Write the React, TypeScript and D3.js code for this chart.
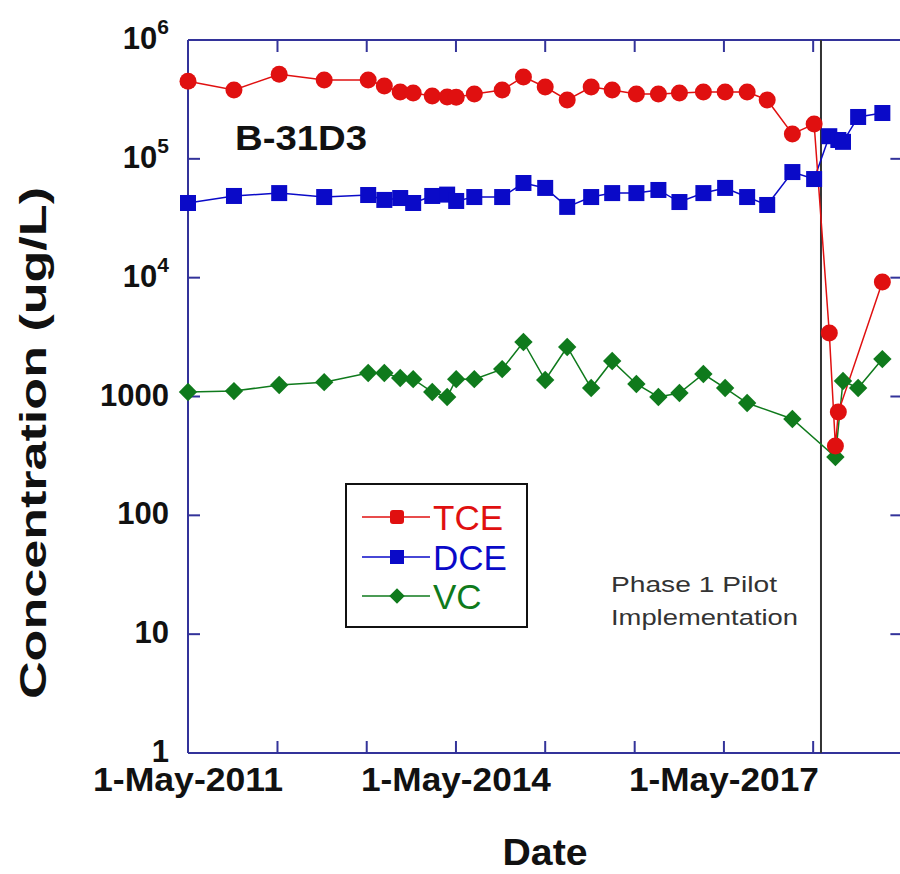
import React from "react";
import * as d3 from "d3";

const tceDates = ["2011-05-01","2011-11-05","2012-05-08","2012-11-08","2013-05-07","2013-07-12","2013-09-15","2013-11-07","2014-01-24","2014-03-26","2014-05-02","2014-07-15","2014-11-06","2015-02-01","2015-05-01","2015-07-30","2015-11-05","2016-01-30","2016-05-08","2016-08-06","2016-10-31","2017-02-06","2017-05-06","2017-08-04","2017-10-25","2018-02-05","2018-05-05","2018-07-06","2018-07-31","2018-08-12","2019-02-08"];
const tceValues = [450000,380000,515000,460000,460000,410000,365000,358000,338000,331000,330000,351000,379000,489000,402000,313000,402000,379000,351000,351000,358000,365000,365000,365000,313000,162000,196000,3420,383,740,9190];

const dceDates = ["2011-05-01","2011-11-05","2012-05-08","2012-11-08","2013-05-07","2013-07-12","2013-09-15","2013-11-07","2014-01-24","2014-03-26","2014-05-02","2014-07-15","2014-11-06","2015-02-01","2015-05-01","2015-07-30","2015-11-05","2016-01-30","2016-05-08","2016-08-06","2016-10-31","2017-02-06","2017-05-06","2017-08-04","2017-10-25","2018-02-05","2018-05-05","2018-07-06","2018-08-12","2018-08-31","2018-11-01","2019-02-08"];
const dceValues = [42500,48700,51500,47700,49600,45100,46800,42500,48700,50000,44200,47700,47700,62600,56900,39400,47700,51500,51500,54700,43300,51500,56900,47700,40900,77400,67600,155000,144000,139000,225000,243000];

const vcDates = ["2011-05-01","2011-11-05","2012-05-08","2012-11-08","2013-05-07","2013-07-12","2013-09-15","2013-11-07","2014-01-24","2014-03-26","2014-05-02","2014-07-15","2014-11-06","2015-02-01","2015-05-01","2015-07-30","2015-11-05","2016-01-30","2016-05-08","2016-08-06","2016-10-31","2017-02-06","2017-05-06","2017-08-04","2018-02-05","2018-07-31","2018-08-31","2018-11-01","2019-02-08"];
const vcValues = [1090,1110,1250,1320,1575,1575,1430,1400,1090,990,1400,1400,1700,2875,1376,2610,1178,1990,1274,990,1070,1546,1178,881,647,310,1350,1178,2065];

const yTickValues = [1, 10, 100, 1000, 10000, 100000, 1000000];
const xLabelDates = ["2011-05-01", "2014-05-01", "2017-05-01"];
const xLabels = ["1-May-2011", "1-May-2014", "1-May-2017"];
const pilotDate = "2018-06-02";
const seriesNames = ["TCE", "DCE", "VC"];

const parse = d3.utcParse("%Y-%m-%d");
const FONT = "'Liberation Sans', Arial, sans-serif";
const AXIS = "#33339a";
const RED = "#e01010";
const BLUE = "#0a0ac8";
const GREEN = "#0f7a1c";

export default function App() {
  const x = d3.scaleUtc().domain([parse("2011-05-01")!, parse("2019-05-01")!]).range([188, 902.4]);
  const y = d3.scaleLog().domain([1, 1e6]).range([753, 40]);
  const top = 40, bottom = 753, left = 188, right = 902.4;

  const mk = (dates: string[], vals: number[]) => dates.map((d, i) => ({ d: parse(d)!, v: vals[i] }));
  const tce = mk(tceDates, tceValues);
  const dce = mk(dceDates, dceValues);
  const vc = mk(vcDates, vcValues);
  const line = d3.line<{ d: Date; v: number }>().x(p => x(p.d)).y(p => y(p.v));

  const yearTicks = d3.utcYears(parse("2011-05-01")!, parse("2019-06-01")!).map(d => d3.utcMonth.offset(d, 4)).filter(d => x(d) > left + 1 && x(d) < right - 1);
  const px = x(parse(pilotDate)!);

  const supLabel = (v: number) => {
    const e = Math.round(Math.log10(v));
    if (e >= 4) return (<>{"10"}<tspan dy={-15} fontSize={21}>{e}</tspan></>);
    return String(v);
  };

  return (
    <svg width={900} height={874} style={{ position: "absolute", left: 0, top: 0, background: "#fff" }} fontFamily={FONT}>
      <rect x={0} y={0} width={900} height={874} fill="#fff" />
      {/* frame */}
      <line x1={left} x2={left} y1={top} y2={bottom} stroke={AXIS} strokeWidth={2} />
      <line x1={right} x2={right} y1={top} y2={bottom} stroke={AXIS} strokeWidth={2} />
      <line x1={left} x2={right} y1={top} y2={top} stroke={AXIS} strokeWidth={2} />
      <line x1={left} x2={right} y1={bottom} y2={bottom} stroke={AXIS} strokeWidth={2} />
      {/* y ticks */}
      {yTickValues.map(v => (
        <g key={v}>
          <line x1={left} x2={left + 12} y1={y(v)} y2={y(v)} stroke={AXIS} strokeWidth={2} />
          <line x1={right} x2={right - 12} y1={y(v)} y2={y(v)} stroke={AXIS} strokeWidth={2} />
          <text x={169} y={y(v) + 9} textAnchor="end" fontSize={31} fontWeight="bold" fill="#111">{supLabel(v)}</text>
        </g>
      ))}
      {/* x ticks */}
      {yearTicks.map((d, i) => (
        <g key={i}>
          <line x1={x(d)} x2={x(d)} y1={bottom} y2={bottom - 12} stroke={AXIS} strokeWidth={2} />
          <line x1={x(d)} x2={x(d)} y1={top} y2={top + 12} stroke={AXIS} strokeWidth={2} />
        </g>
      ))}
      {xLabelDates.map((d, i) => (
        <text key={d} x={x(parse(d)!)} y={791} textAnchor="middle" fontSize={34} fontWeight="bold" fill="#111" textLength={190} lengthAdjust="spacingAndGlyphs">{xLabels[i]}</text>
      ))}
      <text x={545} y={865} textAnchor="middle" fontSize={36} fontWeight="bold" fill="#111" textLength={85} lengthAdjust="spacingAndGlyphs">Date</text>
      <text transform="translate(46,443) rotate(-90)" textAnchor="middle" fontSize={37} fontWeight="bold" fill="#111" textLength={512} lengthAdjust="spacingAndGlyphs">Concentration (ug/L)</text>
      <text x={235} y={150} fontSize={35} fontWeight="bold" fill="#111" textLength={132} lengthAdjust="spacingAndGlyphs">B-31D3</text>

      {/* pilot line */}
      <line x1={px} x2={px} y1={top} y2={bottom} stroke="#333" strokeWidth={2} />
      <text x={611} y={592} fontSize={22} fill="#333" textLength={166} lengthAdjust="spacingAndGlyphs">Phase 1 Pilot</text>
      <text x={611} y={625} fontSize={22} fill="#333" textLength={187} lengthAdjust="spacingAndGlyphs">Implementation</text>

      {/* series */}
      <path d={line(vc) || ""} fill="none" stroke={GREEN} strokeWidth={1.5} />
      <path d={line(dce) || ""} fill="none" stroke={BLUE} strokeWidth={1.5} />
      <path d={line(tce) || ""} fill="none" stroke={RED} strokeWidth={1.5} />
      {vc.map((p, i) => (
        <rect key={"v" + i} x={-6.5} y={-6.5} width={13} height={13} fill={GREEN} transform={`translate(${x(p.d)},${y(p.v)}) rotate(45)`} />
      ))}
      {dce.map((p, i) => (
        <rect key={"d" + i} x={x(p.d) - 8} y={y(p.v) - 8} width={16} height={16} fill={BLUE} />
      ))}
      {tce.map((p, i) => (
        <circle key={"t" + i} cx={x(p.d)} cy={y(p.v)} r={8.5} fill={RED} />
      ))}

      {/* legend */}
      <rect x={346} y={484} width={181} height={143} fill="#fff" stroke="#111" strokeWidth={2} />
      {seriesNames.map((n, i) => {
        const ly = [517, 557, 596][i];
        const col = [RED, BLUE, GREEN][i];
        return (
          <g key={n}>
            <line x1={362} x2={430} y1={ly} y2={ly} stroke={col} strokeWidth={1.5} />
            {i === 0 && <rect x={390} y={ly - 7} width={14} height={14} rx={3} fill={col} />}
            {i === 1 && <rect x={390} y={ly - 7} width={14} height={14} fill={col} />}
            {i === 2 && <rect x={-5.5} y={-5.5} width={11} height={11} fill={col} transform={`translate(397,${ly}) rotate(45)`} />}
            <text x={433} y={ly + 13} fontSize={35} fill={col}>{n}</text>
          </g>
        );
      })}
    </svg>
  );
}
